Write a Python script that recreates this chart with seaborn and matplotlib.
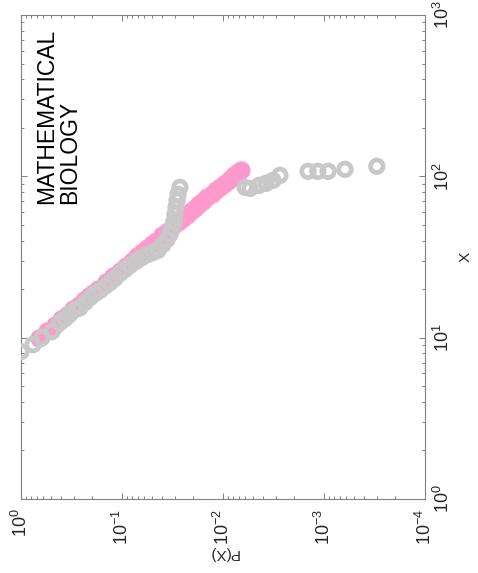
import matplotlib
matplotlib.use("Agg")
import matplotlib.pyplot as plt
import seaborn as sns
import numpy as np
import pandas as pd

# ---------------- data ----------------
# pink series: filled circles (X, P(X))
pink_x = [10, 11, 12, 13, 14, 15, 16, 17, 18, 19, 20, 22, 24, 26, 28, 30, 32, 34, 36, 38, 40,
          43, 46, 49, 52, 55, 58, 61, 64, 67, 70, 74, 78, 82, 86, 90, 94, 98, 102, 106, 110]
pink_p = [0.657, 0.5477, 0.4635, 0.3978, 0.3452, 0.3023, 0.2674, 0.2380, 0.2133, 0.1924, 0.1743,
          0.1453, 0.1230, 0.1055, 0.09158, 0.08025, 0.07096, 0.06315, 0.05660, 0.05104, 0.04626,
          0.04029, 0.03540, 0.03138, 0.02801, 0.02514, 0.02274, 0.02062, 0.01881, 0.01723, 0.01585,
          0.01426, 0.01289, 0.01171, 0.01069, 0.00980, 0.00902, 0.00832, 0.00771, 0.00717, 0.00667]

# grey series: open circles (X, P(X))
grey_x = [8.2, 9.05, 10.0, 10.9, 12.4, 13.1, 14.1, 14.9, 15.3, 16.5, 17.7, 18.8, 19.6, 20.8,
          21.9, 23.3, 25.0, 26.4, 28.0, 29.7, 31.4, 32.8, 33.7, 34.8, 37.8, 40.6, 43.6, 47.5,
          52.5, 58.1, 64.2, 71.0, 77.3, 85.5,
          85.5, 84.2, 87.9, 90.5, 94.4, 101.4, 107.4, 107.4, 107.4, 110.5, 115.4]
grey_p = [1.0, 0.760, 0.620, 0.493, 0.411, 0.367, 0.327, 0.292, 0.261, 0.232, 0.207, 0.185,
          0.165, 0.147, 0.1315, 0.1173, 0.1047, 0.0934, 0.0833, 0.0727, 0.0634, 0.0553, 0.0493,
          0.0440, 0.0393, 0.0358, 0.0335, 0.0320, 0.0305, 0.0299, 0.0292, 0.0285, 0.0279, 0.0267,
          0.00605, 0.0054, 0.0044, 0.00375, 0.0032, 0.00273, 0.00144, 0.00115, 0.00091,
          0.00062, 0.0003]

annotation = "MATHEMATICAL\nBIOLOGY"
xlabel_text = "P(X)"
ylabel_text = "X"

pink_df = pd.DataFrame({"P": pink_p, "X": pink_x})
grey_df = pd.DataFrame({"P": grey_p, "X": grey_x})

# ---------------- style ----------------
sns.set_style("ticks")
plt.rcParams["font.family"] = ["Liberation Sans", "DejaVu Sans"]
plt.rcParams["mathtext.fontset"] = "custom"
plt.rcParams["mathtext.rm"] = "Liberation Sans"
plt.rcParams["mathtext.it"] = "Liberation Sans:italic"
plt.rcParams["mathtext.bf"] = "Liberation Sans:bold"
plt.rcParams["mathtext.sf"] = "Liberation Sans"

W, H = 478, 573
fig = plt.figure(figsize=(W / 100, H / 100), dpi=100)
L, R, T, B = 21, 425, 15, 499
ax = fig.add_axes([L / W, 1 - B / H, (R - L) / W, (B - T) / H])

sns.scatterplot(data=pink_df, x="P", y="X", ax=ax, color="#FF99CC", s=175,
                linewidth=0, zorder=2, legend=False)
sns.scatterplot(data=grey_df, x="P", y="X", ax=ax, color="#C8C8C8", facecolor="none",
                edgecolor="#C8C8C8", s=82, linewidth=3.4, zorder=3, legend=False)

ax.set_xscale("log")
ax.set_yscale("log")
ax.set_xlim(1, 1e-4)
ax.set_ylim(1, 1e3)

grey_line = "#808080"
for sp in ax.spines.values():
    sp.set_color(grey_line)
    sp.set_linewidth(0.8)
    sp.set_visible(True)

ax.tick_params(which="both", direction="in", top=True, bottom=True, left=True, right=True,
               labelleft=False, labelright=True, labelbottom=True, labeltop=False,
               color=grey_line, width=0.7)
ax.tick_params(which="major", length=4)
ax.tick_params(which="minor", length=2.4)
ax.tick_params(axis="x", which="major", labelsize=13, labelrotation=90, pad=7)
ax.tick_params(axis="y", which="major", labelsize=13, labelrotation=90, pad=6)
for lab in ax.get_yticklabels():
    lab.set_va("center")

ax.set_xlabel(xlabel_text, fontsize=11, rotation=180)
ax.xaxis.set_label_coords(0.5, -(553 - B) / (B - T))
ax.xaxis.label.set_va("center")
ax.yaxis.set_label_position("right")
ax.set_ylabel(ylabel_text, fontsize=11, rotation=90)
ax.yaxis.set_label_coords((466 - L) / (R - L), 0.5)
ax.yaxis.label.set_va("center")
ax.yaxis.label.set_ha("center")

ax.text((35 - L) / (R - L), (B - 204) / (B - T), annotation, transform=ax.transAxes,
        rotation=90, ha="left", va="bottom", fontsize=16.5, linespacing=1.0,
        multialignment="left", color="black")

fig.savefig("out.png", dpi=100)
